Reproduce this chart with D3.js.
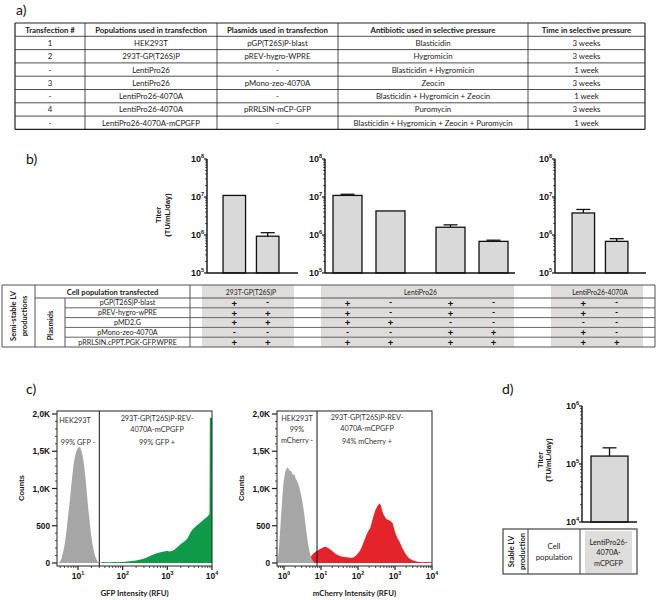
<!DOCTYPE html>
<html><head><meta charset="utf-8">
<script src="https://cdn.jsdelivr.net/npm/d3@7"></script>
<style>body{margin:0;background:#fff}svg{display:block}</style>
</head><body><svg id="c" width="660" height="600"></svg>
<script>
// ---------------- DATA ----------------
// a) transfection table
const tableAHeaders = ["Transfection #","Populations used in transfection","Plasmids used in transfection","Antibiotic used in selective pressure","Time in selective pressure"];
const transfectionNum = ["1","2","-","3","-","4","-"];
const populations = ["HEK293T","293T-GP(T26S)P","LentiPro26","LentiPro26","LentiPro26-4070A","LentiPro26-4070A","LentiPro26-4070A-mCPGFP"];
const plasmidsUsed = ["pGP(T26S)P-blast","pREV-hygro-WPRE","-","pMono-zeo-4070A","-","pRRLSIN-mCP-GFP","-"];
const antibiotics = ["Blasticidin","Hygromicin","Blasticidin + Hygromicin","Zeocin","Blasticidin + Hygromicin + Zeocin","Puromycin","Blasticidin + Hygromicin + Zeocin + Puromycin"];
const selectionTime = ["3 weeks","3 weeks","1 week","3 weeks","1 week","3 weeks","1 week"];

// b) semi-stable titers
const titerGroups = ["293T-GP(T26S)P","LentiPro26","LentiPro26-4070A"];
const titerMeans = [[1.1e7, 0.93e6], [1.1e7, 4.3e6, 1.6e6, 0.68e6], [3.8e6, 0.68e6]];
const titerUpper = [[null, 1.15e6], [1.18e7, null, 1.85e6, 0.73e6], [4.7e6, 0.8e6]];
const titerTicks = [1e5, 1e6, 1e7, 1e8];
const plasmidNames = ["pGP(T26S)P-blast","pREV-hygro-wPRE","pMD2.G","pMono-zeo-4070A","pRRLSIN.cPPT.PGK-GFP.WPRE"];
const plasmidUse = [
  ["+","-","+","-","+","-","+","-"],
  ["+","+","+","-","+","-","+","-"],
  ["+","+","+","+","-","-","-","-"],
  ["-","-","-","-","+","+","+","-"],
  ["+","+","+","+","+","+","+","+"]
];

// c) flow cytometry histograms (log10 intensity, counts)
const gfpNegLog =    [0.56,0.60,0.63,0.66,0.70,0.74,0.78,0.82,0.86,0.90,0.94,0.97,1.00,1.03,1.05,1.08,1.11,1.14,1.17,1.20,1.23,1.26,1.29,1.32,1.35,1.38,1.41,1.44,1.47,1.50];
const gfpNegCounts = [0,20,60,130,240,420,640,850,1100,1320,1450,1510,1545,1560,1550,1500,1420,1300,1130,930,730,560,400,270,170,100,50,20,6,0];
const gfpPosLog =    [1.49,1.55,1.60,1.65,1.70,1.75,1.80,1.85,1.90,1.95,2.00,2.05,2.10,2.15,2.20,2.25,2.30,2.35,2.40,2.45,2.50,2.55,2.60,2.65,2.70,2.75,2.80,2.85,2.90,2.95,3.00,3.05,3.10,3.15,3.20,3.25,3.30,3.35,3.40,3.45,3.50,3.55,3.60,3.65,3.70,3.75,3.80,3.85,3.90,3.945,3.952,3.98,4.0];
const gfpPosCounts = [0,12,10,9,11,10,12,13,11,14,15,17,20,22,26,30,33,40,46,55,65,78,92,105,118,128,138,145,150,158,162,155,160,175,200,225,255,275,300,330,390,440,470,500,525,550,575,600,625,660,1950,1950,1950];
const mchNegLog =    [-0.19,-0.17,-0.13,-0.09,-0.05,-0.01,0.03,0.07,0.10,0.13,0.16,0.19,0.22,0.25,0.28,0.31,0.34,0.37,0.40,0.43,0.46,0.49,0.52,0.55,0.58,0.61,0.64,0.67,0.70,0.73,0.76,0.79,0.82,0.85];
const mchNegCounts = [0,30,250,550,850,1100,1220,1270,1285,1260,1230,1240,1200,1180,1190,1140,1110,1080,1040,980,920,840,750,640,520,400,290,200,130,80,45,20,8,0];
const mchPosLog =    [0.68,0.72,0.78,0.85,0.92,1.00,1.07,1.13,1.18,1.25,1.32,1.40,1.48,1.55,1.62,1.70,1.78,1.86,1.93,2.00,2.05,2.10,2.16,2.22,2.28,2.33,2.38,2.43,2.48,2.52,2.56,2.59,2.62,2.66,2.70,2.75,2.80,2.85,2.90,2.94,2.98,3.02,3.07,3.12,3.18,3.24,3.30,3.38,3.46,3.55,3.65,3.75,3.85,3.95,4.00];
const mchPosCounts = [0,80,120,150,170,195,212,218,205,180,155,120,100,88,80,76,72,70,95,130,160,215,290,370,430,470,560,650,720,760,790,800,770,690,640,600,580,570,555,530,450,390,330,290,220,160,110,65,40,22,12,10,12,10,10];
const countTicks = [0,500,1000,1500,2000];
const countTickLabels = ["0","500","1,0K","1,5K","2,0K"];
const gfpGate = 30, mchGate = 7.8;

// d) stable titer
const stableGroup = ["LentiPro26-4070A-mCPGFP"];
const stableMean = [1.37e5];
const stableUpper = [1.9e5];
const stableTicks = [1e4, 1e5, 1e6];

// ---------------- DRAWING ----------------
const svg = d3.select("#c");
svg.append("rect").attr("width",660).attr("height",600).attr("fill","#fff");
const TF = "Lato, 'Open Sans', sans-serif";
const AF = "'Liberation Sans', Arial, sans-serif";

function txt(g, x, y, s, o = {}) {
  return g.append("text").attr("x",x).attr("y",y).attr("font-family",o.ff||TF)
    .attr("font-size",o.fs||8).attr("font-weight",o.fw||"normal").attr("fill",o.fill||"#1a1a1a")
    .attr("text-anchor",o.anchor||"middle").attr("dominant-baseline","central").text(s);
}
function rtxt(g, x, y, s, o = {}) {
  return g.append("text").attr("transform",`translate(${x},${y}) rotate(-90)`)
    .attr("font-family",o.ff||TF).attr("font-size",o.fs||8).attr("font-weight",o.fw||"bold")
    .attr("fill","#1a1a1a").attr("text-anchor","middle").attr("dominant-baseline","central").text(s);
}
function supLabel(g, x, y, base, exp, fs, anchor, ff) {
  const t = g.append("text").attr("x",x).attr("y",y).attr("text-anchor",anchor)
    .attr("font-family",ff||AF).attr("font-weight","bold").attr("font-size",fs).attr("fill","#111");
  t.append("tspan").text(base);
  t.append("tspan").attr("dy",-fs*0.45).attr("font-size",fs*0.62).text(exp);
  return t;
}
function line(g,x1,y1,x2,y2,c,w){ return g.append("line").attr("x1",x1).attr("y1",y1).attr("x2",x2).attr("y2",y2).attr("stroke",c||"#111").attr("stroke-width",w||1); }

// panel labels
[["a)",16,9],["b)",26,158],["c)",26,388],["d)",502,388]].forEach(p=>txt(svg,p[1],p[2],p[0],{fs:14,anchor:"start",fill:"#111"}));

// ---- a) table ----
(function(){
  const g = svg.append("g");
  const colX = [15,85,217,338,528,645];
  const top = 23, rh = 13.3;
  const rows = transfectionNum.map((d,i)=>[d,populations[i],plasmidsUsed[i],antibiotics[i],selectionTime[i]]);
  const n = rows.length + 1;
  d3.range(n+1).forEach(r=>line(g,colX[0],top+r*rh,colX[5],top+r*rh,"#222",r===0||r===n?1.2:0.8));
  colX.forEach((x,i)=>line(g,x,top,x,top+n*rh,"#222",i===0||i===5?1.2:0.8));
  tableAHeaders.forEach((h,c)=>txt(g,(colX[c]+colX[c+1])/2,top+rh/2,h,{fw:"bold",fs:7.8}));
  rows.forEach((r,i)=>r.forEach((s,c)=>txt(g,(colX[c]+colX[c+1])/2,top+(i+1.5)*rh,s,{fs:7.8})));
})();

// ---- b) bar charts ----
const yB = d3.scaleLog().domain([1e5,1e8]).range([273,159]);
const chartAxes = [[207,298],[325,515],[555,646]];
const pairRanges = [[211,291],[330,511],[560,640]];
const barCenters = [];
const bG = svg.append("g");
const greySpans = [];
titerGroups.forEach((grp,gi)=>{
  const vals = titerMeans[gi];
  const nPairs = vals.length/2;
  const outer = d3.scaleBand().domain(d3.range(nPairs)).range(pairRanges[gi]).paddingInner(0.243).paddingOuter(0);
  const inner = d3.scaleBand().domain([0,1]).range([0,outer.bandwidth()]).paddingInner(0.326).paddingOuter(0.07);
  const [ax0, ax1] = chartAxes[gi];
  greySpans.push([pairRanges[gi][0]-9, pairRanges[gi][1]+3]);
  vals.forEach((v,i)=>{
    const bx = outer(Math.floor(i/2)) + inner(i%2), bw = inner.bandwidth();
    barCenters.push(bx + bw/2);
    const up = titerUpper[gi][i];
    if (up) {
      line(bG,bx+bw/2,yB(v),bx+bw/2,yB(up),"#111",1.3);
      line(bG,bx+bw/2-7,yB(up),bx+bw/2+7,yB(up),"#111",1.3);
    }
    bG.append("rect").attr("x",bx).attr("y",yB(v)).attr("width",bw).attr("height",yB(1e5)-yB(v))
      .attr("fill","#d9d9d9").attr("stroke","#111").attr("stroke-width",1.3);
  });
  // axes
  line(bG,ax0,yB(1e8),ax0,yB(1e5),"#111",1.4);
  line(bG,ax0,yB(1e5),ax1,yB(1e5),"#111",1.4);
  titerTicks.forEach((t,k)=>{
    line(bG,ax0-3,yB(t),ax0,yB(t),"#111",1.2);
    supLabel(bG,ax0-3,yB(t)+3.2,"10",String(Math.round(Math.log10(t))),9,"end");
    if (k<titerTicks.length-1) d3.range(2,10).forEach(m=>line(bG,ax0-1.8,yB(t*m),ax0,yB(t*m),"#111",0.8));
  });
});
rtxt(bG,158,215,"Titer",{ff:AF,fs:7.5});
rtxt(bG,167,215,"(TU/mL/day)",{ff:AF,fs:7.5});

// ---- b) table ----
(function(){
  const g = svg.append("g");
  const L = 2, c1 = 35, c2 = 65, c3 = 190, R = 655;
  const top = 285, hb = 298, rh = 9.8, bottom = hb + 5*rh;
  greySpans.forEach(s=>g.append("rect").attr("x",s[0]).attr("y",top).attr("width",s[1]-s[0]).attr("height",bottom-top).attr("fill","#dfdddb"));
  line(g,L,top,R,top,"#555",1.2);
  line(g,c1,hb,R,hb,"#555",1);
  d3.range(1,5).forEach(r=>line(g,c2,hb+r*rh,R,hb+r*rh,"#666",1));
  line(g,L,bottom,R,bottom,"#555",1.2);
  [L,c1,c3,R].forEach(x=>line(g,x,top,x,bottom,"#555",1));
  line(g,c2,hb,c2,bottom,"#555",1);
  txt(g,(c1+c3)/2,(top+hb)/2,"Cell population transfected",{fw:"bold",fs:7.6});
  rtxt(g,13,(top+bottom)/2,"Semi-stable LV",{fs:7.6});
  rtxt(g,24,(top+bottom)/2,"productions",{fs:7.6});
  rtxt(g,(c1+c2)/2,(hb+bottom)/2+3,"Plasmids",{fs:7.6});
  // group headers
  let k = 0;
  titerGroups.forEach((grp,gi)=>{
    const cs = barCenters.slice(k, k+titerMeans[gi].length); k += titerMeans[gi].length;
    txt(g,(cs[0]+cs[cs.length-1])/2,(top+hb)/2,grp,{fs:6.8});
  });
  plasmidNames.forEach((p,r)=>{
    txt(g,(c2+c3)/2,hb+(r+0.5)*rh,p,{fs:7.2});
    plasmidUse[r].forEach((s,c)=>txt(g,barCenters[c],hb+(r+0.5)*rh+(s==="-"?-0.5:0.3),s,{fs:s==="+"?9.5:8.5,fw:"bold",ff:s==="+"?AF:TF,fill:"#111"}));
  });
})();

// ---- c) flow histograms ----
function flow(cfg){
  const g = svg.append("g");
  const x = d3.scaleLog().domain(cfg.xDomain).range([cfg.x0,cfg.x1]);
  const y = d3.scaleLinear().domain([0,2000]).range([563,414]);
  const fTop = 411, fBot = 566;
  const cid = "clip"+cfg.x0;
  g.append("clipPath").attr("id",cid).append("rect").attr("x",cfg.x0).attr("y",fTop).attr("width",cfg.x1-cfg.x0).attr("height",fBot-fTop);
  cfg.series.forEach(s=>{
    const area = d3.area().x(d=>x(Math.pow(10,d[0]))).y0(y(0)).y1(d=>y(d[1]));
    g.append("path").datum(d3.zip(s.logs,s.counts)).attr("d",area).attr("fill",s.color).attr("clip-path",`url(#${cid})`);
  });
  line(g,x(cfg.gate),fTop,x(cfg.gate),fBot,"#111",1);
  g.append("rect").attr("x",cfg.x0).attr("y",fTop).attr("width",cfg.x1-cfg.x0).attr("height",fBot-fTop).attr("fill","none").attr("stroke","#222").attr("stroke-width",1);
  // y ticks
  d3.range(0,2001,100).forEach(v=>{
    const major = countTicks.includes(v);
    line(g,cfg.x0-(major?5:2),y(v),cfg.x0,y(v),"#222",major?1.2:0.8);
  });
  countTicks.forEach((t,i)=>txt(g,cfg.x0-7,y(t),countTickLabels[i],{ff:AF,fw:"bold",fs:8.3,anchor:"end",fill:"#111"}));
  // x ticks
  const lo = Math.floor(Math.log10(cfg.xDomain[0]));
  for (let e = lo; e <= 4; e++) {
    for (let m = 1; m <= 9; m++) {
      const v = m*Math.pow(10,e);
      if (v < cfg.xDomain[0]*0.999 || v > cfg.xDomain[1]*1.001) continue;
      line(g,x(v),fBot,x(v),fBot+(m===1?4:2),"#222",m===1?1.2:0.8);
      if (m===1) supLabel(g,x(v),fBot+13,"10",String(e),8.5,"middle");
    }
  }
  txt(g,(cfg.x0+cfg.x1)/2,593,cfg.xTitle,{fw:"bold",fs:7.8});
  rtxt(g,cfg.x0-36,488,"Counts",{ff:AF,fs:7.5});
  cfg.labels.forEach(l=>txt(g,l[0],l[1],l[2],{fs:7.3,fill:"#333"}));
}
flow({x0:57,x1:212,xDomain:[Math.pow(10,0.53),1e4],gate:gfpGate,xTitle:"GFP Intensity (RFU)",
  series:[{logs:gfpNegLog,counts:gfpNegCounts,color:"#a6a6a6"},{logs:gfpPosLog,counts:gfpPosCounts,color:"#0e9a47"}],
  labels:[[75,420,"HEK293T"],[78,442,"99% GFP -"],[157,418,"293T-GP(T26S)P-REV-"],[157,429,"4070A-mCPGFP"],[157,442,"99% GFP +"]]});
flow({x0:277,x1:432,xDomain:[Math.pow(10,-0.19),1e4],gate:mchGate,xTitle:"mCherry Intensity (RFU)",
  series:[{logs:mchPosLog,counts:mchPosCounts,color:"#e5232a"},{logs:mchNegLog,counts:mchNegCounts,color:"#a6a6a6"}],
  labels:[[297,418,"HEK293T"],[297,429,"99%"],[297,440,"mCherry -"],[367,417,"293T-GP(T26S)P-REV-"],[367,428,"4070A-mCPGFP"],[367,441,"94% mCherry +"]]});

// ---- d) stable titer ----
(function(){
  const g = svg.append("g");
  const y = d3.scaleLog().domain([1e4,1e6]).range([522,406]);
  const ax0 = 582, ax1 = 637;
  const x = d3.scaleBand().domain(stableGroup).range([ax0,ax1]).paddingInner(0).paddingOuter(0.243);
  stableGroup.forEach((s,i)=>{
    const bx = x(s), bw = x.bandwidth();
    line(g,bx+bw/2,y(stableMean[i]),bx+bw/2,y(stableUpper[i]),"#111",1.3);
    line(g,bx+bw/2-7,y(stableUpper[i]),bx+bw/2+7,y(stableUpper[i]),"#111",1.3);
    g.append("rect").attr("x",bx).attr("y",y(stableMean[i])).attr("width",bw).attr("height",y(1e4)-y(stableMean[i]))
      .attr("fill","#d9d9d9").attr("stroke","#111").attr("stroke-width",1.3);
  });
  line(g,ax0,y(1e6),ax0,y(1e4),"#111",1.4);
  line(g,ax0,y(1e4),ax1,y(1e4),"#111",1.4);
  stableTicks.forEach((t,k)=>{
    line(g,ax0-3,y(t),ax0,y(t),"#111",1.2);
    supLabel(g,ax0-3,y(t)+3.2,"10",String(Math.round(Math.log10(t))),9,"end");
    if (k<stableTicks.length-1) d3.range(2,10).forEach(m=>line(g,ax0-1.8,y(t*m),ax0,y(t*m),"#111",0.8));
  });
  rtxt(g,540,460,"Titer",{ff:AF,fs:7.5});
  rtxt(g,548,460,"(TU/mL/day)",{ff:AF,fs:7.5});
  // table
  const L = 503, c1 = 528, c2 = 580, R = 637, T = 529, B = 574;
  g.append("rect").attr("x",585).attr("y",531).attr("width",47).attr("height",42).attr("fill","#dfdddb");
  g.append("rect").attr("x",L).attr("y",T).attr("width",R-L).attr("height",B-T).attr("fill","none").attr("stroke","#444").attr("stroke-width",1.2);
  line(g,c1,T,c1,B,"#444",1); line(g,c2,T,c2,B,"#444",1);
  rtxt(g,511,551.5,"Stable LV",{fs:7.6});
  rtxt(g,522,551.5,"production",{fs:7.6});
  txt(g,(c1+c2)/2,546,"Cell",{fs:7.8});
  txt(g,(c1+c2)/2,557,"population",{fs:7.8});
  txt(g,608.5,542,"LentiPro26-",{fs:7.3});
  txt(g,608.5,552.5,"4070A-",{fs:7.3});
  txt(g,608.5,563,"mCPGFP",{fs:7.3});
})();
</script></body></html>
